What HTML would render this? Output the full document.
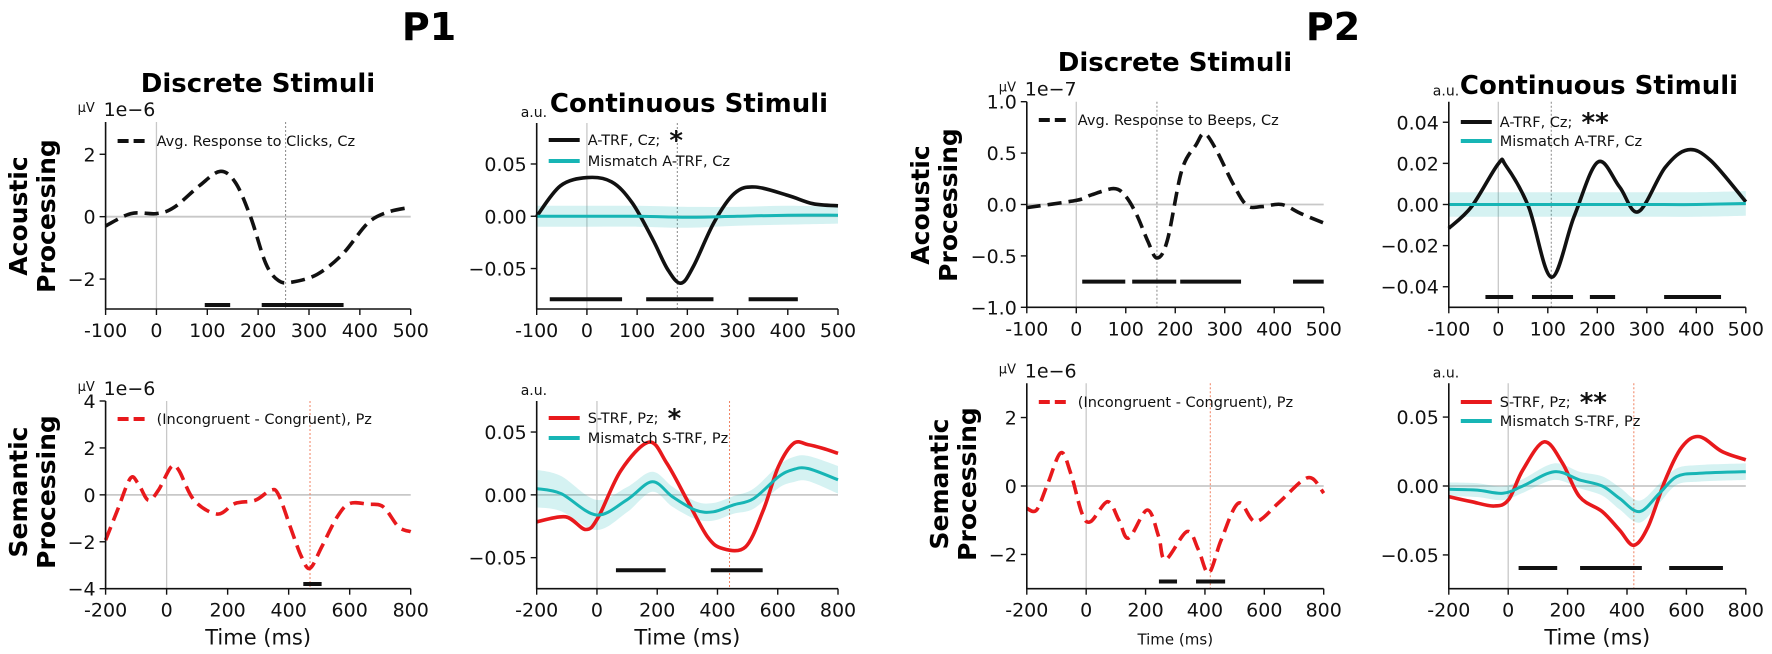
<!DOCTYPE html>
<html><head><meta charset="utf-8"><style>
html,body{margin:0;padding:0;background:#fff;}
svg{display:block;font-family:"DejaVu Sans","Liberation Sans",sans-serif;}
</style></head><body>
<svg id="fig" width="1772" height="654" viewBox="0 0 1772 654" xmlns="http://www.w3.org/2000/svg">
<text x="429" y="40" font-size="38" font-weight="bold" text-anchor="middle">P1</text>
<text x="1333" y="40" font-size="38" font-weight="bold" text-anchor="middle">P2</text>
<text x="258" y="92" font-size="26" font-weight="bold" text-anchor="middle">Discrete Stimuli</text>
<text x="689" y="112" font-size="26" font-weight="bold" text-anchor="middle">Continuous Stimuli</text>
<text x="1175" y="71" font-size="26" font-weight="bold" text-anchor="middle">Discrete Stimuli</text>
<text x="1599" y="94" font-size="26" font-weight="bold" text-anchor="middle">Continuous Stimuli</text>
<text transform="translate(30,216) rotate(-90)" font-size="25" font-weight="bold" text-anchor="middle"><tspan x="0" dy="-3">Acoustic</tspan><tspan x="0" dy="28">Processing</tspan></text>
<text transform="translate(30,492) rotate(-90)" font-size="25" font-weight="bold" text-anchor="middle"><tspan x="0" dy="-3">Semantic</tspan><tspan x="0" dy="28">Processing</tspan></text>
<text transform="translate(932,205) rotate(-90)" font-size="25" font-weight="bold" text-anchor="middle"><tspan x="0" dy="-3">Acoustic</tspan><tspan x="0" dy="28">Processing</tspan></text>
<text transform="translate(951,484) rotate(-90)" font-size="25" font-weight="bold" text-anchor="middle"><tspan x="0" dy="-3">Semantic</tspan><tspan x="0" dy="28">Processing</tspan></text>
</svg>
<script>
// ---- data ----
const xTicksA = [-100,0,100,200,300,400,500];
const xTicksS = [-200,0,200,400,600,800];
// P1 acoustic discrete (1e-6)
const p1adX = [-100,-50,0,35,85,125,155,185,215,240,266,316,366,416,456,500];
const p1adY = [-0.3,0.1,0.1,0.3,1.0,1.45,1.1,0,-1.5,-2.05,-2.1,-1.85,-1.2,-0.2,0.15,0.3];
const p1adSig = [[95,145],[207,368]];
// P1 acoustic continuous
const p1acX = [-100,-53,0,49,90,131,161,187,212,253,294,335,400,450,500];
const p1acY = [0,0.029,0.037,0.033,0.013,-0.022,-0.051,-0.064,-0.048,-0.006,0.022,0.028,0.02,0.012,0.01];
const p1amX = [-100,0,100,200,300,400,500];
const p1amY = [0,0,0,-0.001,0,0.001,0.001];
const p1amBand = [0.01,0.01,0.01,0.01,0.009,0.009,0.008];
const p1acSig = [[-74,70],[118,252],[322,420]];
// P2 acoustic discrete (1e-7)
const p2adX = [-100,0,29,75,98,121,144,163,184,213,242,259,282,317,345,375,415,455,500];
const p2adY = [-0.03,0.04,0.09,0.155,0.09,-0.09,-0.35,-0.52,-0.35,0.33,0.58,0.69,0.54,0.2,-0.01,-0.02,0,-0.09,-0.18];
const p2adSig = [[12,99],[113,202],[210,333],[438,500]];
// P2 acoustic continuous
const p2acX = [-100,-54,0,15,61,107,153,201,245,283,337,383,429,500];
const p2acY = [-0.0116,-0.001,0.0198,0.019,-0.001,-0.0353,-0.006,0.0206,0.0085,-0.0035,0.018,0.0266,0.0214,0.0013];
const p2amX = [-100,0,100,200,300,400,500];
const p2amY = [0,0,0,0,0,0,0.0005];
const p2amBand = [0.006,0.006,0.006,0.006,0.006,0.006,0.006];
const p2acSig = [[-26,30],[68,151],[185,236],[335,450]];
// P1 semantic discrete (1e-6)
const p1sdX = [-200,-161,-119,-93,-60,-27,15,40,90,166,224,291,341,367,409,442,470,509,559,600,660,710,760,800];
const p1sdY = [-1.93,-0.65,0.7,0.48,-0.23,0.2,1.19,1.05,-0.23,-0.82,-0.37,-0.23,0.2,0,-1.5,-2.64,-3.13,-2.2,-0.94,-0.37,-0.4,-0.51,-1.36,-1.57];
const p1sdSig = [[448,508]];
// P1 semantic continuous
const p1scX = [-200,-104,-37,5,80,173,232,299,367,417,493,552,602,653,700,750,800];
const p1scY = [-0.0215,-0.0175,-0.0276,-0.0175,0.0196,0.042,0.025,-0.004,-0.0334,-0.0427,-0.0414,-0.0122,0.0223,0.041,0.040,0.037,0.033];
const p1smX = [-200,-119,-2,99,183,251,327,386,453,520,602,650,700,800];
const p1smY = [0.005,0.001,-0.016,-0.004,0.0104,-0.0016,-0.0122,-0.0135,-0.008,-0.003,0.0143,0.02,0.021,0.012];
const p1smBand = [0.015,0.014,0.012,0.01,0.008,0.008,0.007,0.007,0.007,0.008,0.009,0.01,0.01,0.011];
const p1scSig = [[63,228],[378,550]];
// P2 semantic discrete (1e-6)
const p2sdX = [-200,-167,-129,-85,-52,-14,15,72,110,143,206,244,267,340,378,413,455,513,570,647,724,762,800];
const p2sdY = [-0.65,-0.7,0.08,0.97,0.37,-0.8,-1.04,-0.46,-0.99,-1.52,-0.7,-1.47,-2.15,-1.33,-1.86,-2.54,-1.57,-0.5,-1.04,-0.5,0.13,0.22,-0.21];
const p2sdSig = [[245,306],[370,468]];
// P2 semantic continuous
const p2scX = [-200,-123,-47,1,49,121,183,240,317,375,423,471,529,586,644,720,800];
const p2scY = [-0.0077,-0.0114,-0.0145,-0.01,0.0116,0.032,0.0165,-0.0077,-0.0186,-0.032,-0.043,-0.0295,0.0044,0.0286,0.0358,0.025,0.019];
const p2smX = [-200,-104,-18,49,155,240,317,375,442,509,567,644,800];
const p2smY = [-0.0024,-0.003,-0.0053,0,0.0104,0.0044,0,-0.009,-0.0186,-0.0053,0.0068,0.0092,0.0104];
const p2smBand = [0.005,0.005,0.005,0.005,0.006,0.006,0.007,0.008,0.008,0.007,0.006,0.006,0.006];
const p2scSig = [[35,165],[242,450],[542,723]];

// ---- drawing ----
const NS = "http://www.w3.org/2000/svg";
const svg = document.getElementById('fig');
function mk(tag, attrs, parent){
  const e = document.createElementNS(NS, tag);
  for (const k in attrs) e.setAttribute(k, attrs[k]);
  (parent||svg).appendChild(e);
  return e;
}
function smooth(pts){
  let d = "M" + pts[0][0].toFixed(1) + "," + pts[0][1].toFixed(1);
  for (let i=0;i<pts.length-1;i++){
    const p0=pts[Math.max(0,i-1)], p1=pts[i], p2=pts[i+1], p3=pts[Math.min(pts.length-1,i+2)];
    const c1=[p1[0]+(p2[0]-p0[0])/6, p1[1]+(p2[1]-p0[1])/6];
    const c2=[p2[0]-(p3[0]-p1[0])/6, p2[1]-(p3[1]-p1[1])/6];
    d += " C"+c1[0].toFixed(1)+","+c1[1].toFixed(1)+" "+c2[0].toFixed(1)+","+c2[1].toFixed(1)+" "+p2[0].toFixed(1)+","+p2[1].toFixed(1);
  }
  return d;
}
function fmt(v, dec){
  const s = v.toFixed(dec);
  return (v < -1e-12 ? "\u2212" + s.replace("-","") : s.replace("-",""));
}
function panel(c){
  const g = mk('g', {});
  
  
  const sx = v => c.L + (v - c.x0)/(c.x1 - c.x0)*(c.R - c.L);
  const sy = v => c.B - (v - c.y0)/(c.y1 - c.y0)*(c.B - c.T);
  const zl = mk('line', {x1:c.L, x2:c.R, y1:sy(0), y2:sy(0), stroke:'#c8c8c8', 'stroke-width':1.8}, g);
  
  
  const vl = mk('line', {x1:sx(0), x2:sx(0), y1:c.T, y2:c.B, stroke:'#c8c8c8', 'stroke-width':1.3}, g);
  
  
  const pk = mk('line', {x1:sx(c.peak), x2:sx(c.peak), y1:c.T, y2:c.B, stroke:c.peakColor, 'stroke-width':1, 'stroke-dasharray':'2,2'}, g);
  
  
  if (c.mX){
    const up = c.mX.map((x,i)=>[sx(x), sy(c.mY[i]+c.mB[i])]);
    const lo = c.mX.map((x,i)=>[sx(x), sy(c.mY[i]-c.mB[i])]).reverse();
    const d = smooth(up) + " L" + smooth(lo).slice(1) + " Z";
    const band = mk('path', {d:d, fill:'#17b5b5', 'fill-opacity':0.18, stroke:'none'}, g);
    
    
  }
  const main = mk('path', {d:smooth(c.X.map((x,i)=>[sx(x), sy(c.Y[i])])), fill:'none', stroke:c.color, 'stroke-width':3.6, 'stroke-linejoin':'round'}, g);
  if (c.dashed) main.setAttribute('stroke-dasharray', '14,7');
  
  
  if (c.mX){
    const mm = mk('path', {d:smooth(c.mX.map((x,i)=>[sx(x), sy(c.mY[i])])), fill:'none', stroke:'#17b5b5', 'stroke-width':3}, g);
    
    
  }
  c.sig.forEach(s=>{
    const b = mk('line', {x1:sx(s[0]), x2:sx(s[1]), y1:sy(c.sigY), y2:sy(c.sigY), stroke:'#111', 'stroke-width':4}, g);
    
    
  });
  const ax = mk('path', {d:"M"+c.L+","+c.T+" L"+c.L+","+c.B+" L"+c.R+","+c.B, fill:'none', stroke:'#111', 'stroke-width':1.6}, g);
  
  
  c.xt.forEach(t=>{
    const tk = mk('line', {x1:sx(t), x2:sx(t), y1:c.B, y2:c.B+6, stroke:'#111', 'stroke-width':1.4}, g);
    
    
    const tl = mk('text', {x:sx(t), y:c.B+28, 'font-size':19, 'text-anchor':'middle', fill:'#111'}, g);
    tl.textContent = String(t);
    
    
  });
  c.yt.forEach(t=>{
    const tk = mk('line', {x1:c.L-6, x2:c.L, y1:sy(t), y2:sy(t), stroke:'#111', 'stroke-width':1.4}, g);
    
    
    const tl = mk('text', {x:c.L-10, y:sy(t)+7, 'font-size':19, 'text-anchor':'end', fill:'#111'}, g);
    tl.textContent = fmt(t, c.ydec);
    
    
  });
  if (c.unit === 'uV'){
    const u = mk('text', {x:c.L-28, y:c.T-10, 'font-size':13, fill:'#111'}, g);
    u.textContent = "\u03bcV";
    
    
    const e = mk('text', {x:c.L-2, y:c.T-6, 'font-size':19, fill:'#111'}, g);
    e.textContent = c.exp;
    
    
  } else {
    const u = mk('text', {x:c.L-16, y:c.T-6, 'font-size':14, fill:'#111'}, g);
    u.textContent = "a.u.";
    
    
  }
  if (c.xlabel){
    const xl = mk('text', {x:(c.L+c.R)/2, y:c.B+56, 'font-size':c.xlabelSize, 'text-anchor':'middle', fill:'#111'}, g);
    xl.textContent = "Time (ms)";
    
    
  }
  c.legend.forEach((l,i)=>{
    const y = c.legY + i*c.legGap;
    const ln = mk('line', {x1:c.L+12, x2:c.L+43, y1:y, y2:y, stroke:l.color, 'stroke-width':4}, g);
    if (l.dashed) ln.setAttribute('stroke-dasharray', '11,5');
    
    
    const tx = mk('text', {x:c.L+51, y:y+5, 'font-size':14.5, fill:'#111'}, g);
    tx.textContent = l.text;
    
    
    if (l.star){
      const st = mk('tspan', {'font-size':26, 'font-weight':'bold', dy:4}, tx);
      st.textContent = " " + l.star;
    }
  });
}
const base = {peakColor:'#888'};
panel(Object.assign({}, base, {name:'p1-acoustic-discrete-panel', L:105.6,R:410.7,T:122,B:309,x0:-100,x1:500,y0:-2.96,y1:3.035,
  X:p1adX,Y:p1adY,color:'#111',dashed:true,peak:254,sig:p1adSig,sigY:-2.83,xt:xTicksA,yt:[-2,0,2],ydec:0,unit:'uV',exp:'1e\u22126',
  legY:141,legGap:20,legend:[{color:'#111',dashed:true,text:'Avg. Response to Clicks, Cz'}]}));
panel(Object.assign({}, base, {name:'p1-acoustic-continuous-panel', L:536.7,R:838,T:123,B:309,x0:-100,x1:500,y0:-0.0887,y1:0.0892,
  X:p1acX,Y:p1acY,color:'#111',peak:180,mX:p1amX,mY:p1amY,mB:p1amBand,sig:p1acSig,sigY:-0.0794,xt:xTicksA,yt:[-0.05,0,0.05],ydec:2,unit:'au',
  legY:140,legGap:21,legend:[{color:'#111',text:'A-TRF, Cz;',star:'*'},{color:'#17b5b5',text:'Mismatch A-TRF, Cz'}]}));
panel(Object.assign({}, base, {name:'p2-acoustic-discrete-panel', L:1026.8,R:1323.7,T:101.7,B:307.3,x0:-100,x1:500,y0:-1,y1:1,
  X:p2adX,Y:p2adY,color:'#111',dashed:true,peak:163,sig:p2adSig,sigY:-0.75,xt:xTicksA,yt:[-1,-0.5,0,0.5,1],ydec:1,unit:'uV',exp:'1e\u22127',
  legY:120,legGap:20,legend:[{color:'#111',dashed:true,text:'Avg. Response to Beeps, Cz'}]}));
panel(Object.assign({}, base, {name:'p2-acoustic-continuous-panel', L:1448.8,R:1745.8,T:101.7,B:307.3,x0:-100,x1:500,y0:-0.05,y1:0.05,
  X:p2acX,Y:p2acY,color:'#111',peak:107,mX:p2amX,mY:p2amY,mB:p2amBand,sig:p2acSig,sigY:-0.045,xt:xTicksA,yt:[-0.04,-0.02,0,0.02,0.04],ydec:2,unit:'au',
  legY:122,legGap:19,legend:[{color:'#111',text:'A-TRF, Cz;',star:'**'},{color:'#17b5b5',text:'Mismatch A-TRF, Cz'}]}));
const red = '#e8191c';
panel(Object.assign({}, base, {name:'p1-semantic-discrete-panel', peakColor:'#f08060', L:105.6,R:410.7,T:401,B:588.7,x0:-200,x1:800,y0:-4,y1:4,
  X:p1sdX,Y:p1sdY,color:red,dashed:true,peak:470,sig:p1sdSig,sigY:-3.8,xt:xTicksS,yt:[-4,-2,0,2,4],ydec:0,unit:'uV',exp:'1e\u22126',
  xlabel:true,xlabelSize:21,legY:419,legGap:20,legend:[{color:red,dashed:true,text:'(Incongruent - Congruent), Pz'}]}));
panel(Object.assign({}, base, {name:'p1-semantic-continuous-panel', peakColor:'#f08060', L:536.7,R:838,T:401,B:588.7,x0:-200,x1:800,y0:-0.0747,y1:0.0747,
  X:p1scX,Y:p1scY,color:red,peak:440,mX:p1smX,mY:p1smY,mB:p1smBand,sig:p1scSig,sigY:-0.06,xt:xTicksS,yt:[-0.05,0,0.05],ydec:2,unit:'au',
  xlabel:true,xlabelSize:21,legY:418,legGap:20,legend:[{color:red,text:'S-TRF, Pz;',star:'*'},{color:'#17b5b5',text:'Mismatch S-TRF, Pz'}]}));
panel(Object.assign({}, base, {name:'p2-semantic-discrete-panel', peakColor:'#f08060', L:1026.8,R:1323.7,T:383.3,B:588.7,x0:-200,x1:800,y0:-3,y1:3,
  X:p2sdX,Y:p2sdY,color:red,dashed:true,peak:418,sig:p2sdSig,sigY:-2.79,xt:xTicksS,yt:[-2,0,2],ydec:0,unit:'uV',exp:'1e\u22126',
  xlabel:true,xlabelSize:15,legY:402,legGap:20,legend:[{color:red,dashed:true,text:'(Incongruent - Congruent), Pz'}]}));
panel(Object.assign({}, base, {name:'p2-semantic-continuous-panel', peakColor:'#f08060', L:1448.8,R:1745.8,T:383.3,B:588.7,x0:-200,x1:800,y0:-0.0745,y1:0.0745,
  X:p2scX,Y:p2scY,color:red,peak:423,mX:p2smX,mY:p2smY,mB:p2smBand,sig:p2scSig,sigY:-0.0595,xt:xTicksS,yt:[-0.05,0,0.05],ydec:2,unit:'au',
  xlabel:true,xlabelSize:21,legY:402,legGap:19,legend:[{color:red,text:'S-TRF, Pz;',star:'**'},{color:'#17b5b5',text:'Mismatch S-TRF, Pz'}]}));
</script>
</body></html>
